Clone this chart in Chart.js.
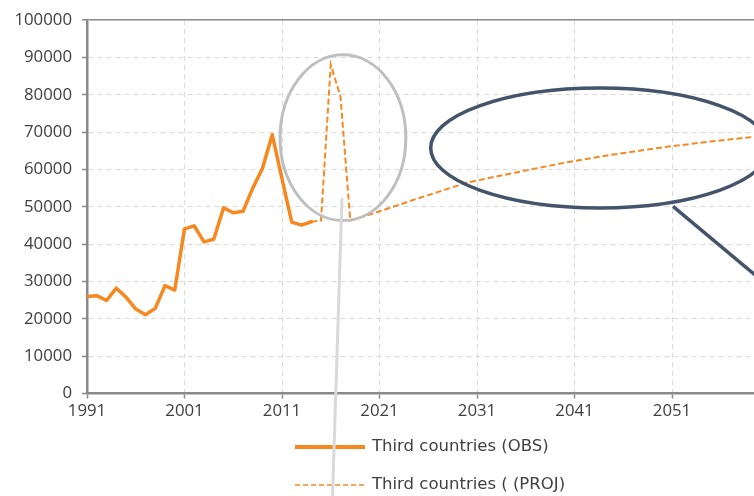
<!DOCTYPE html>
<html>
<head>
<meta charset="utf-8">
<script src="https://cdn.jsdelivr.net/npm/chart.js@4/dist/chart.umd.min.js"></script>
<style>
  html, body { margin: 0; padding: 0; background: #ffffff; overflow: hidden; }
  #wrap { position: relative; width: 800px; height: 496px; }
</style>
</head>
<body>
<div id="wrap"><canvas id="chart"></canvas></div>
<script>
// Observed annual values
const obsYears  = [1991, 1992, 1993, 1994, 1995, 1996, 1997, 1998, 1999, 2000,
                   2001, 2002, 2003, 2004, 2005, 2006, 2007, 2008, 2009, 2010,
                   2011, 2012, 2013, 2014];
const obsValues = [26000, 26200, 24900, 28200, 25800, 22600, 21100, 22800, 28900, 27700,
                   44100, 44900, 40600, 41300, 49700, 48400, 48800, 55000, 60300, 69300,
                   57500, 45900, 45100, 46000];

// Projected values
const projYears  = [2014, 2015, 2016, 2017, 2018, 2020, 2025, 2030, 2035, 2040,
                    2045, 2050, 2055, 2060, 2061];
const projValues = [46000, 46300, 88100, 79500, 46300, 47900, 52300, 56500, 59200, 61800,
                    64000, 65900, 67500, 68900, 69200];

const seriesLabels = ['Third countries (OBS)', 'Third countries ( (PROJ)'];
const xTickYears  = [1991, 2001, 2011, 2021, 2031, 2041, 2051];
const xRange      = [1991, 2061];
const yTickValues = [0, 10000, 20000, 30000, 40000, 50000, 60000, 70000, 80000, 90000, 100000];

const ORANGE = '#f7871f';
const AXIS = '#8a8a8a';
const GRID = '#d9d9d9';
const TEXT = '#404040';

const toPoints = (xs, ys) => xs.map((x, i) => ({ x: x, y: ys[i] }));

// Highlight shapes, anchored in data units (year, value)
const callouts = {
  spike:  { year: 2017.25, value: 68500, halfYears: 6.45, halfValue: 22200, color: '#bfbfbf', width: 3 },
  spikePointer: { from: [2017.15, 52300], to: [2016.15, -30000], color: '#d9d9d9', width: 3 },
  trend:  { year: 2043.6, value: 65750, halfYears: 17.35, halfValue: 16050, color: '#44546a', width: 3.5 },
  trendPointer: { from: [2051.1, 50100], to: [2064.5, 20900], color: '#44546a', width: 3.5 }
};

const calloutPlugin = {
  id: 'callouts',
  afterDraw(chart) {
    const { ctx, scales: { x, y } } = chart;
    const ellipse = (c) => {
      const cx = x.getPixelForValue(c.year), cy = y.getPixelForValue(c.value);
      const rx = Math.abs(x.getPixelForValue(c.year + c.halfYears) - cx);
      const ry = Math.abs(y.getPixelForValue(c.value + c.halfValue) - cy);
      ctx.save();
      ctx.strokeStyle = c.color;
      ctx.lineWidth = c.width;
      ctx.beginPath();
      ctx.ellipse(cx, cy, rx, ry, 0, 0, Math.PI * 2);
      ctx.stroke();
      ctx.restore();
    };
    const pointer = (p) => {
      ctx.save();
      ctx.strokeStyle = p.color;
      ctx.lineWidth = p.width;
      ctx.beginPath();
      ctx.moveTo(x.getPixelForValue(p.from[0]), y.getPixelForValue(p.from[1]));
      ctx.lineTo(x.getPixelForValue(p.to[0]), y.getPixelForValue(p.to[1]));
      ctx.stroke();
      ctx.restore();
    };
    ellipse(callouts.spike);
    ellipse(callouts.trend);
    pointer(callouts.trendPointer);
    pointer(callouts.spikePointer);
  }
};

// Legend drawn as two stacked rows under the axis
const stackedLegend = {
  id: 'stackedLegend',
  afterDatasetsDraw(chart) {
    const ctx = chart.ctx;
    const lineX = 295, lineLen = 70, textX = 372;
    const rows = [447, 485];
    const legendStyles = [{ width: 4, dash: [] }, { width: 1.5, dash: [5, 3] }];
    chart.data.datasets.forEach((ds, i) => {
      const yy = rows[i];
      ctx.save();
      ctx.strokeStyle = ds.borderColor;
      ctx.lineWidth = legendStyles[i].width;
      ctx.setLineDash(legendStyles[i].dash);
      ctx.beginPath();
      ctx.moveTo(lineX, yy);
      ctx.lineTo(lineX + lineLen, yy);
      ctx.stroke();
      ctx.setLineDash([]);
      ctx.fillStyle = TEXT;
      ctx.font = '16.5px "DejaVu Sans", sans-serif';
      ctx.textBaseline = 'middle';
      ctx.textAlign = 'left';
      ctx.fillText(ds.label, textX, yy);
      ctx.restore();
    });
  }
};

new Chart(document.getElementById('chart'), {
  type: 'line',
  data: {
    datasets: [
      {
        label: seriesLabels[0],
        data: toPoints(obsYears, obsValues),
        borderColor: ORANGE,
        backgroundColor: ORANGE,
        borderWidth: 3.5,
        pointRadius: 0,
        tension: 0,
        borderJoinStyle: 'round',
        borderCapStyle: 'round'
      },
      {
        label: seriesLabels[1],
        data: toPoints(projYears, projValues),
        borderColor: ORANGE,
        backgroundColor: ORANGE,
        borderWidth: 2,
        borderDash: [6, 3],
        pointRadius: 0,
        tension: 0
      }
    ]
  },
  options: {
    responsive: true,
    maintainAspectRatio: false,
    animation: false,
    layout: { padding: { top: 17.5, right: 30.5, bottom: 0, left: 0 } },
    plugins: {
      legend: { display: false },
      tooltip: { enabled: false }
    },
    scales: {
      x: {
        type: 'linear',
        min: xRange[0],
        max: xRange[1],
        afterBuildTicks: (s) => { s.ticks = xTickYears.map(v => ({ value: v })); },
        afterFit: (s) => { s.height = 102.5; },
        ticks: {
          color: TEXT,
          font: { family: '"Open Sans", sans-serif', size: 16.8 },
          padding: 3,
          maxRotation: 0,
          autoSkip: false,
          callback: (v) => String(v)
        },
        grid: {
          color: GRID,
          lineWidth: 1,
          tickColor: AXIS,
          tickWidth: 1.5,
          tickLength: 5
        },
        border: { color: AXIS, width: 2.5, dash: [5, 4] }
      },
      y: {
        min: 0,
        max: 100000,
        afterBuildTicks: (s) => { s.ticks = yTickValues.map(v => ({ value: v })); },
        afterFit: (s) => { s.width = 87; },
        ticks: {
          color: TEXT,
          font: { family: '"Open Sans", sans-serif', size: 16.8 },
          padding: 10,
          callback: (v) => String(v)
        },
        grid: {
          color: (c) => (c.tick && c.tick.value === 100000 ? AXIS : GRID),
          lineWidth: (c) => (c.tick && c.tick.value === 100000 ? 1.5 : 1),
          tickColor: AXIS,
          tickWidth: 1.5,
          tickLength: 5
        },
        border: {
          color: AXIS,
          width: 2.5,
          dash: (c) => (c.tick && c.tick.value === 100000 ? [] : [5, 4])
        }
      }
    }
  },
  plugins: [stackedLegend, calloutPlugin]
});
</script>
</body>
</html>
